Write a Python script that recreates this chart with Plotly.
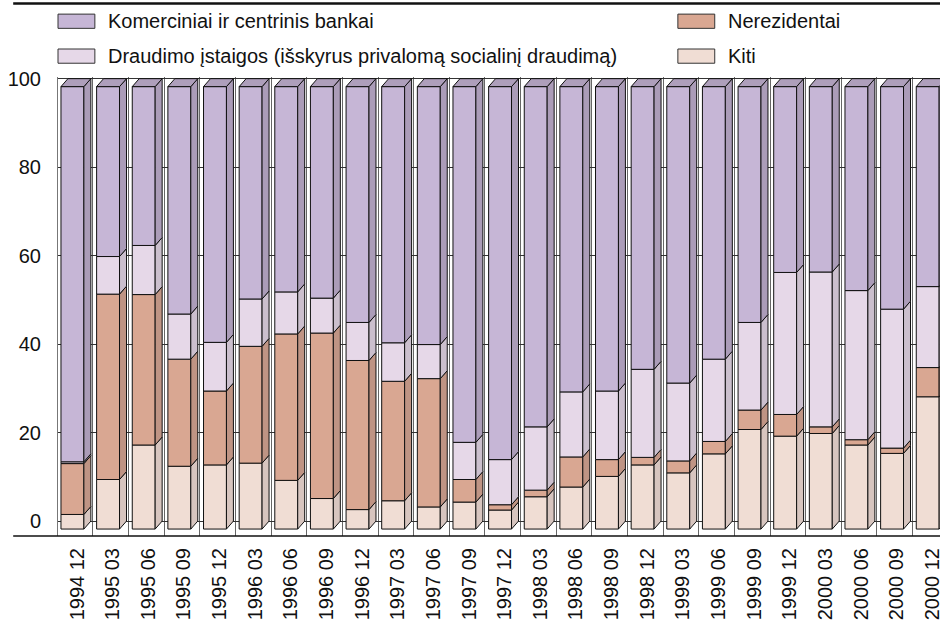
import plotly.graph_objects as go

periods = ["1994 12", "1995 03", "1995 06", "1995 09", "1995 12", "1996 03", "1996 06",
           "1996 09", "1996 12", "1997 03", "1997 06", "1997 09", "1997 12", "1998 03",
           "1998 06", "1998 09", "1998 12", "1999 03", "1999 06", "1999 09", "1999 12",
           "2000 03", "2000 06", "2000 09", "2000 12"]

kiti = [3.3, 11.2, 19.0, 14.2, 14.5, 14.9, 11.0, 6.9, 4.4, 6.4, 5.0, 6.1, 4.3,
        7.3, 9.5, 11.9, 14.5, 12.7, 17.0, 22.5, 21.0, 21.6, 19.0, 17.1, 29.9]
nerezidentai = [11.5, 41.9, 34.0, 24.2, 16.7, 26.4, 33.1, 37.4, 33.7, 27.0, 29.0, 5.1, 1.2,
                1.5, 6.8, 3.8, 1.7, 2.7, 2.8, 4.4, 4.9, 1.5, 1.2, 1.2, 6.6]
draudimo = [0.4, 8.5, 11.1, 10.2, 11.0, 10.7, 9.5, 7.9, 8.6, 8.7, 7.7, 8.4, 10.2,
            14.3, 14.7, 15.5, 19.9, 17.6, 18.6, 19.8, 32.1, 35.0, 33.7, 31.4, 18.3]
bankai = [84.8, 38.4, 35.9, 51.4, 57.8, 48.0, 46.4, 47.8, 53.3, 57.9, 58.3, 80.4, 84.3,
          76.9, 69.0, 68.8, 63.9, 67.0, 61.6, 53.3, 42.0, 41.9, 46.1, 50.3, 45.2]

series = [
    ("Kiti", kiti, "#f0ddd4", "#d7c5bf"),
    ("Nerezidentai", nerezidentai, "#d9a792", "#bf9484"),
    ("Draudimo įstaigos (išskyrus privalomą socialinį draudimą)", draudimo, "#e6d8e8", "#cbbfcd"),
    ("Komerciniai ir centrinis bankai", bankai, "#c6b6d6", "#ab9cb8"),
]

FONT = "Liberation Sans, Arial, Helvetica, sans-serif"
xs = list(range(len(periods)))
w = 0.643   # front face width
dx = 0.196  # depth offset (x units)
dy = 1.8    # depth offset (y units)

fig = go.Figure()
base = [0.0] * len(xs)
for name, vals, col, side in series:
    fig.add_trace(go.Bar(
        x=xs, y=vals, base=base[:], width=w, name=name,
        marker=dict(color=col, line=dict(color="#111", width=1)),
        showlegend=False,
    ))
    px, py = [], []
    for x, b, v in zip(xs, base, vals):
        r = x + w / 2
        px += [r, r + dx, r + dx, r, r, None]
        py += [b, b + dy, b + v + dy, b + v, b, None]
    fig.add_trace(go.Scatter(
        x=px, y=py, mode="lines", fill="toself", fillcolor=side,
        line=dict(color="#111", width=1), hoverinfo="skip", showlegend=False,
    ))
    base = [b + v for b, v in zip(base, vals)]

# top faces
tx, ty = [], []
for x, b in zip(xs, base):
    l, r = x - w / 2, x + w / 2
    tx += [l, l + dx, r + dx, r, l, None]
    ty += [b, b + dy, b + dy, b, b, None]
fig.add_trace(go.Scatter(
    x=tx, y=ty, mode="lines", fill="toself", fillcolor="#ae9fbb",
    line=dict(color="#111", width=1), hoverinfo="skip", showlegend=False,
))

# legend drawn by hand to match the two-column layout
legend = [
    ("Komerciniai ir centrinis bankai", "#c6b6d6", 0.0, 1.106),
    ("Nerezidentai", "#d9a792", 0.7028, 1.106),
    ("Draudimo įstaigos (išskyrus privalomą socialinį draudimą)", "#e6d8e8", 0.0, 1.030),
    ("Kiti", "#f0ddd4", 0.7028, 1.030),
]
shapes = []
annotations = []
for text, col, lx, ly in legend:
    shapes.append(dict(type="rect", xref="paper", yref="paper",
                       x0=lx, x1=lx + 0.0418, y0=ly, y1=ly + 0.031,
                       fillcolor=col, line=dict(color="#333", width=1)))
    annotations.append(dict(text=text, xref="paper", yref="paper",
                            x=lx + 0.0545, y=ly + 0.0155, xanchor="left", yanchor="middle",
                            showarrow=False, font=dict(size=20, color="#111", family=FONT)))

shapes.append(dict(type="line", xref="paper", yref="paper", x0=-0.0508, x1=1,
                   y0=1.160, y1=1.160, line=dict(color="#111", width=2.5)))
shapes.append(dict(type="line", xref="paper", yref="paper", x0=-0.0508, x1=1,
                   y0=0, y1=0, line=dict(color="#111", width=1.5)))

yvals = [0, 20, 40, 60, 80, 100]

fig.update_layout(
    width=943, height=620,
    margin=dict(l=58, r=0, t=77, b=80),
    paper_bgcolor="white", plot_bgcolor="white",
    barmode="overlay",
    shapes=shapes, annotations=annotations,
    font=dict(family=FONT, size=20, color="#111"),
    xaxis=dict(
        range=[-0.405, 24.345],
        tickmode="array", tickvals=[x + 0.13 for x in xs], ticktext=periods,
        tickangle=-90, ticks="", showgrid=False, zeroline=False, showline=False,
        ticklabelstandoff=7, ticklabeloverflow="allow",
        minor=dict(tickmode="array", tickvals=[x + 0.575 for x in [-1] + xs],
                   showgrid=True, gridcolor="#666", gridwidth=1, ticks=""),
    ),
    yaxis=dict(
        range=[-1.568, 102.174],
        tickmode="array", tickvals=[v + dy for v in yvals], ticktext=[str(v) for v in yvals],
        showgrid=True, gridcolor="#333", gridwidth=1, zeroline=False,
        showline=True, linecolor="#777", linewidth=1, ticks="",
        ticklabelstandoff=12,
    ),
)

fig.write_html("out.html", config={"displayModeBar": False},
               post_script="document.body.style.margin='0';")
